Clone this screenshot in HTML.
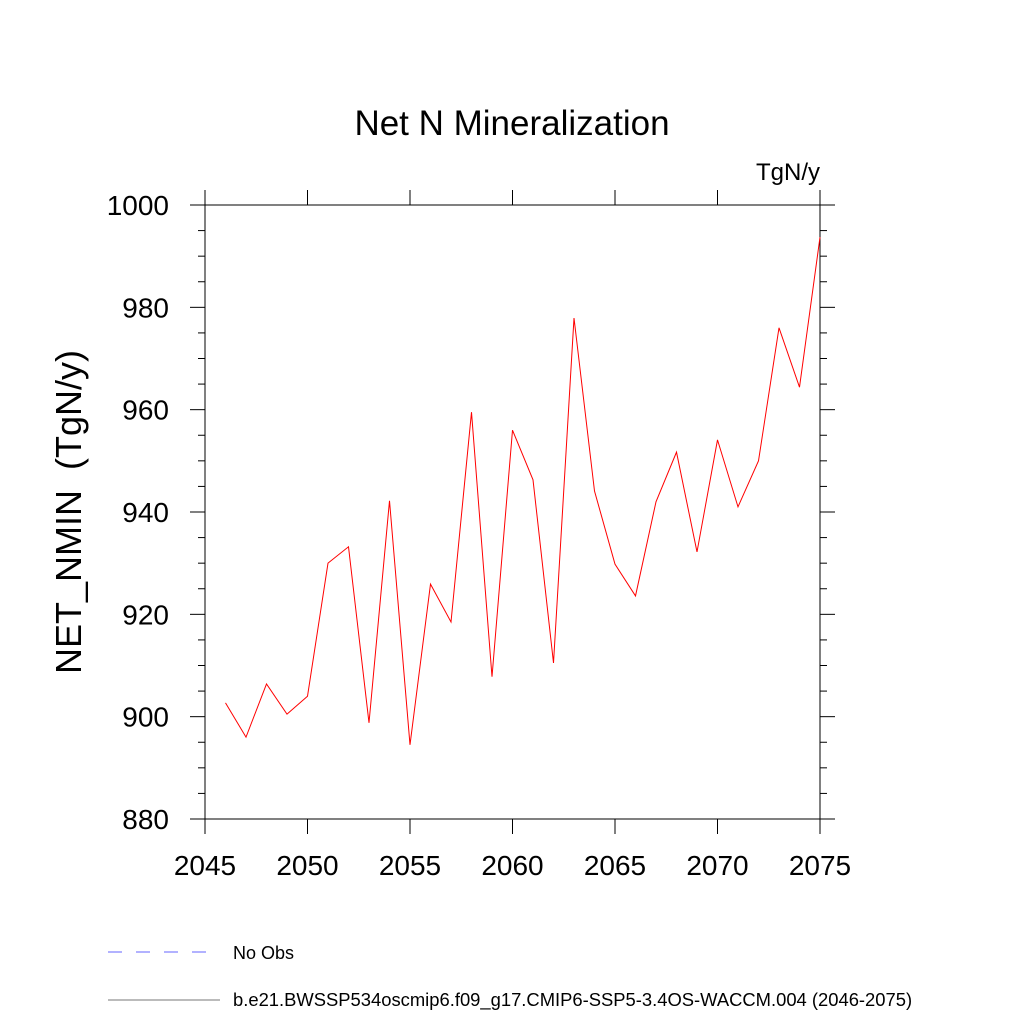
<!DOCTYPE html>
<html><head><meta charset="utf-8"><style>
body{margin:0;background:#fff}
svg text{font-family:"Liberation Sans",sans-serif;white-space:pre}
</style></head><body>
<svg id="chart" width="1024" height="1024" xmlns="http://www.w3.org/2000/svg">
<text x="512" y="135" font-size="35" text-anchor="middle">Net N Mineralization</text>
<text x="820" y="180" font-size="24" text-anchor="end">TgN/y</text>
<text transform="translate(81,512) rotate(-90)" font-size="36" text-anchor="middle" xml:space="preserve">NET_NMIN  (TgN/y)</text>
<g id="axes"></g>
<g id="series"></g>
<line x1="108" y1="952" x2="216" y2="952" stroke="#6666ff" stroke-width="1" stroke-dasharray="14,14"/>
<text x="233" y="959" font-size="18">No Obs</text>
<line x1="108" y1="1000" x2="220" y2="1000" stroke="#777" stroke-width="1"/>
<text x="233" y="1006" font-size="18.4">b.e21.BWSSP534oscmip6.f09_g17.CMIP6-SSP5-3.4OS-WACCM.004 (2046-2075)</text>
</svg>
<script>
const years=[2046,2047,2048,2049,2050,2051,2052,2053,2054,2055,2056,2057,2058,2059,2060,2061,2062,2063,2064,2065,2066,2067,2068,2069,2070,2071,2072,2073,2074,2075];
const values=[902.7,896.0,906.4,900.5,904.0,930.0,933.2,898.8,942.2,894.5,925.9,918.5,959.5,907.8,956.0,946.3,910.5,977.9,944.1,929.8,923.6,942.0,951.7,932.2,954.1,941.0,950.0,976.0,964.4,993.7];
const xTicks=[2045,2050,2055,2060,2065,2070,2075];
const yTicks=[880,900,920,940,960,980,1000];
const NS="http://www.w3.org/2000/svg";
const L=205,R=820,T=205,B=819;
const xs=v=>L+(v-2045)/30*(R-L);
const ys=v=>B-(v-880)/120*(B-T);
const axes=document.getElementById('axes');
function mk(tag,attrs,parent){const e=document.createElementNS(NS,tag);for(const k in attrs)e.setAttribute(k,attrs[k]);parent.appendChild(e);return e;}
const box=mk('rect',{x:L,y:T,width:R-L,height:B-T,fill:'none',stroke:'#000','stroke-width':1},axes);


xTicks.forEach(t=>{
  const x=xs(t);
  const a=mk('line',{x1:x,y1:B,x2:x,y2:B+15,stroke:'#000'},axes);
  
  
  const b=mk('line',{x1:x,y1:T,x2:x,y2:T-15,stroke:'#000'},axes);
  
  
  const tx=mk('text',{x:x,y:875,'font-size':28,'text-anchor':'middle'},axes);
  tx.textContent=t;
  
  
});
for(let v=880;v<=1000;v+=5){
  const y=ys(v);const major=(v%20===0);const len=major?15:7;
  const a=mk('line',{x1:L,y1:y,x2:L-len,y2:y,stroke:'#000'},axes);
  
  
  const b=mk('line',{x1:R,y1:y,x2:R+len,y2:y,stroke:'#000'},axes);
  
  
}
yTicks.forEach(t=>{
  const tx=mk('text',{x:169,y:ys(t)+10,'font-size':28,'text-anchor':'end'},axes);
  tx.textContent=t;
  
  
});
const pts=years.map((y,i)=>xs(y)+','+ys(values[i])).join(' ');
const line=mk('polyline',{points:pts,fill:'none',stroke:'#ff0000','stroke-width':1},document.getElementById('series'));


</script>
</body></html>
